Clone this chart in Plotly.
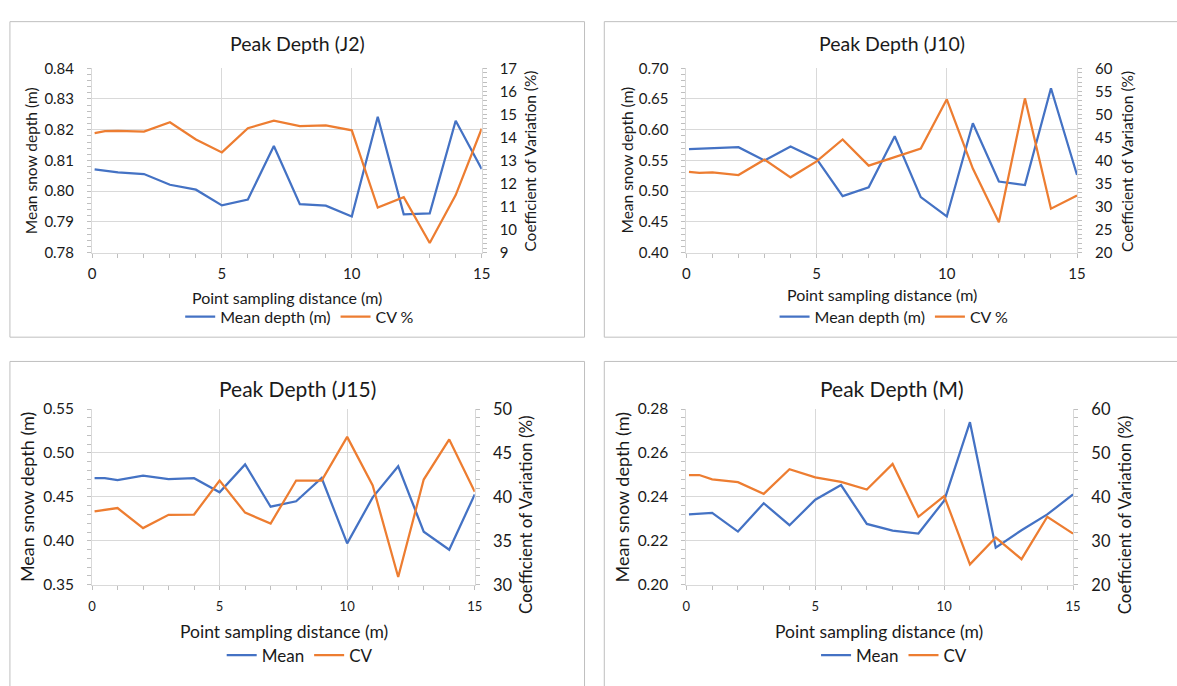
import plotly.graph_objects as go

# Point sampling distance (m)
distance = [0.1, 0.5, 1, 2, 3, 4, 5, 6, 7, 8, 9, 10, 11, 12, 13, 14, 15]

# Site J2
j2_mean = [0.8071, 0.8067, 0.8061, 0.8056, 0.8021, 0.8005, 0.7954, 0.7973, 0.8147,
           0.7958, 0.7953, 0.7918, 0.8242, 0.7925, 0.7928, 0.8229, 0.8072]
j2_cv = [14.19, 14.27, 14.28, 14.25, 14.66, 13.91, 13.35, 14.40, 14.73,
         14.49, 14.52, 14.31, 10.96, 11.41, 9.42, 11.50, 14.38]

# Site J10
j10_mean = [0.5684, 0.5690, 0.5705, 0.5716, 0.5500, 0.5726, 0.5526, 0.4921, 0.5063,
            0.5895, 0.4905, 0.4589, 0.6105, 0.5158, 0.5100, 0.6674, 0.5263]
j10_cv = [37.54, 37.30, 37.40, 36.84, 40.20, 36.35, 39.80, 44.56, 38.88,
          40.70, 42.60, 53.26, 38.25, 26.60, 53.47, 29.54, 32.42]

# Site J15
j15_mean = [0.4712, 0.4712, 0.4690, 0.4741, 0.4701, 0.4712, 0.4553, 0.4870, 0.4388,
            0.4450, 0.4715, 0.3971, 0.4494, 0.4848, 0.4104, 0.3898, 0.4528]
j15_cv = [38.36, 38.50, 38.73, 36.45, 37.96, 37.99, 41.86, 38.21, 36.96,
          41.86, 41.86, 46.83, 41.30, 30.88, 41.97, 46.54, 40.57]

# Site M
m_mean = [0.2320, 0.2322, 0.2327, 0.2242, 0.2371, 0.2271, 0.2387, 0.2454, 0.2277,
          0.2246, 0.2233, 0.2383, 0.2740, 0.2169, 0.2248, 0.2320, 0.2411]
m_cv = [44.97, 44.97, 44.00, 43.35, 40.70, 46.30, 44.46, 43.43, 41.66,
        47.48, 35.47, 40.18, 24.64, 30.75, 25.82, 35.47, 31.64]

titles = ["Peak Depth (J2)", "Peak Depth (J10)", "Peak Depth (J15)", "Peak Depth (M)"]
mean_names = ["Mean depth (m)", "Mean depth (m)", "Mean", "Mean"]
cv_names = ["CV %", "CV %", "CV", "CV"]
x_ticks = [0, 5, 10, 15]

W, H = 1177, 686
FONT = "Lato, Carlito, Open Sans, sans-serif"
TXT = "#1a1a1a"
BLUE = "#4472C4"
ORANGE = "#ED7D31"
GRID = "#D9D9D9"
TICK = "#BFBFBF"

series = [(j2_mean, j2_cv), (j10_mean, j10_cv), (j15_mean, j15_cv), (m_mean, m_cv)]

# per-panel layout (pixels): plot box, axis ranges and ticks, frame
panels = [
    dict(box=(89, 483, 60, 250), frame=(6, 587, 12, 337),
         yl=(0.78, 0.84, 0.01, 0.002), yr=(9, 17, 1, 0.2),
         title_y=35, xt=(286, 296), ylt=(28, 155), yrt=(532, 156), leg=(299, 316),
         big=False),
    dict(box=(690, 1085, 60, 250), frame=(607, 1190, 12, 337),
         yl=(0.40, 0.70, 0.05, 0.01), yr=(20, 60, 5, 1),
         title_y=35, xt=(888, 293), ylt=(630, 155), yrt=(1136, 156), leg=(900, 316),
         big=False),
    dict(box=(89, 476, 411, 592), frame=(6, 587, 362, 700),
         yl=(0.35, 0.55, 0.05, 0.01), yr=(30, 50, 5, 1),
         title_y=390, xt=(283, 640), ylt=(24, 502), yrt=(528, 520), leg=(299, 665),
         big=True),
    dict(box=(690, 1081, 411, 592), frame=(607, 1190, 362, 700),
         yl=(0.20, 0.28, 0.02, 0.004), yr=(20, 60, 10, 2),
         title_y=390, xt=(885, 640), ylt=(625, 502), yrt=(1133, 520), leg=(900, 665),
         big=True),
]


def px(x):
    return x / W


def py(y):
    return 1 - y / H


fig = go.Figure()
layout = dict(
    width=W, height=H, margin=dict(l=0, r=0, t=0, b=0),
    paper_bgcolor="white", plot_bgcolor="white",
    font=dict(family=FONT, color=TXT), annotations=[], shapes=[],
)

for i, (p, (mean, cv)) in enumerate(zip(panels, series)):
    n = i + 1
    xa = f"xaxis{n}" if n > 1 else "xaxis"
    ya_l = 2 * n - 1
    ya_r = 2 * n
    yl_name = f"yaxis{ya_l}" if ya_l > 1 else "yaxis"
    yr_name = f"yaxis{ya_r}"
    xref = f"x{n}" if n > 1 else "x"
    ylref = f"y{ya_l}" if ya_l > 1 else "y"
    yrref = f"y{ya_r}"
    leg = f"legend{n}" if n > 1 else "legend"

    x0, x1, y0, y1 = p["box"]
    dom_x = [px(x0), px(x1)]
    dom_y = [py(y1), py(y0)]
    big = p["big"]

    tick_font = dict(size=15.5 if big else 15, color=TXT, family=FONT)
    xtick_font = dict(size=13 if big else 15, color=TXT, family=FONT)
    rtick_font = dict(size=16.5 if big else 15, color=TXT, family=FONT)

    layout[xa] = dict(
        domain=dom_x, anchor=ylref, range=[0, 15], tickvals=x_ticks,
        showgrid=True, gridcolor=GRID, gridwidth=1, zeroline=False,
        showline=True, linecolor=GRID, linewidth=1,
        ticks="outside", ticklen=4, tickcolor=TICK,
        minor=dict(dtick=1, ticks="outside", ticklen=4, tickcolor=TICK, showgrid=False),
        tickfont=xtick_font, ticklabelstandoff=6 if big else 3, fixedrange=True,
    )
    lo, hi, dt, mdt = p["yl"]
    layout[yl_name] = dict(
        domain=dom_y, anchor=xref, range=[lo, hi], dtick=dt, tick0=lo,
        tickformat=".2f", showgrid=True, gridcolor=GRID, gridwidth=1, zeroline=False,
        showline=True, linecolor=GRID, linewidth=1,
        ticks="outside", ticklen=4, tickcolor=TICK,
        minor=dict(dtick=mdt, ticks="outside", ticklen=4, tickcolor=TICK, showgrid=False),
        tickfont=tick_font, ticklabelstandoff=10, fixedrange=True,
    )
    lo, hi, dt, mdt = p["yr"]
    layout[yr_name] = dict(
        overlaying=ylref, anchor=xref, side="right", range=[lo, hi], dtick=dt, tick0=lo,
        showgrid=False, zeroline=False, showline=True, linecolor=GRID, linewidth=1,
        ticks="outside", ticklen=4, tickcolor=TICK,
        minor=dict(dtick=mdt, ticks="outside", ticklen=4, tickcolor=TICK, showgrid=False),
        tickfont=rtick_font, ticklabelstandoff=10, fixedrange=True,
    )

    fig.add_trace(go.Scatter(
        x=distance, y=mean, mode="lines", name=mean_names[i],
        line=dict(color=BLUE, width=2.25), xaxis=xref, yaxis=ylref, legend=leg,
    ))
    fig.add_trace(go.Scatter(
        x=distance, y=cv, mode="lines", name=cv_names[i],
        line=dict(color=ORANGE, width=2.25), xaxis=xref, yaxis=yrref, legend=leg,
    ))

    lx, ly = p["leg"]
    layout[leg] = dict(
        orientation="h", x=px(lx), y=py(ly), xanchor="center", yanchor="middle",
        font=dict(size=17 if big else 16, color=TXT, family=FONT),
        bgcolor="rgba(0,0,0,0)", itemwidth=30, tracegroupgap=0,
    )

    fx0, fx1, fy0, fy1 = p["frame"]
    layout["shapes"].append(dict(
        type="rect", xref="paper", yref="paper",
        x0=px(fx0), x1=px(fx1), y0=py(fy1), y1=py(fy0),
        line=dict(color="#BFBFBF", width=1), fillcolor="rgba(0,0,0,0)", layer="below",
    ))

    cx = (fx0 + min(fx1, 1188)) / 2
    layout["annotations"].append(dict(
        text=titles[i], x=px(cx), y=py(p["title_y"]), xref="paper", yref="paper",
        showarrow=False, xanchor="center", yanchor="middle",
        font=dict(size=21 if big else 19.5, color=TXT, family=FONT),
    ))
    tx, ty = p["xt"]
    layout["annotations"].append(dict(
        text="Point sampling distance (m)", x=px(tx), y=py(ty), xref="paper", yref="paper",
        showarrow=False, xanchor="center", yanchor="middle",
        font=dict(size=17.5 if big else 16, color=TXT, family=FONT),
    ))
    tx, ty = p["ylt"]
    layout["annotations"].append(dict(
        text="Mean snow depth (m)", x=px(tx), y=py(ty), xref="paper", yref="paper",
        showarrow=False, xanchor="center", yanchor="middle", textangle=-90,
        font=dict(size=18 if big else 15.5, color=TXT, family=FONT),
    ))
    tx, ty = p["yrt"]
    layout["annotations"].append(dict(
        text="Coefficient of Variation (%)", x=px(tx), y=py(ty), xref="paper", yref="paper",
        showarrow=False, xanchor="center", yanchor="middle", textangle=-90,
        font=dict(size=17 if big else 15.5, color=TXT, family=FONT),
    ))

fig.update_layout(**layout)
fig.write_html("out.html")
